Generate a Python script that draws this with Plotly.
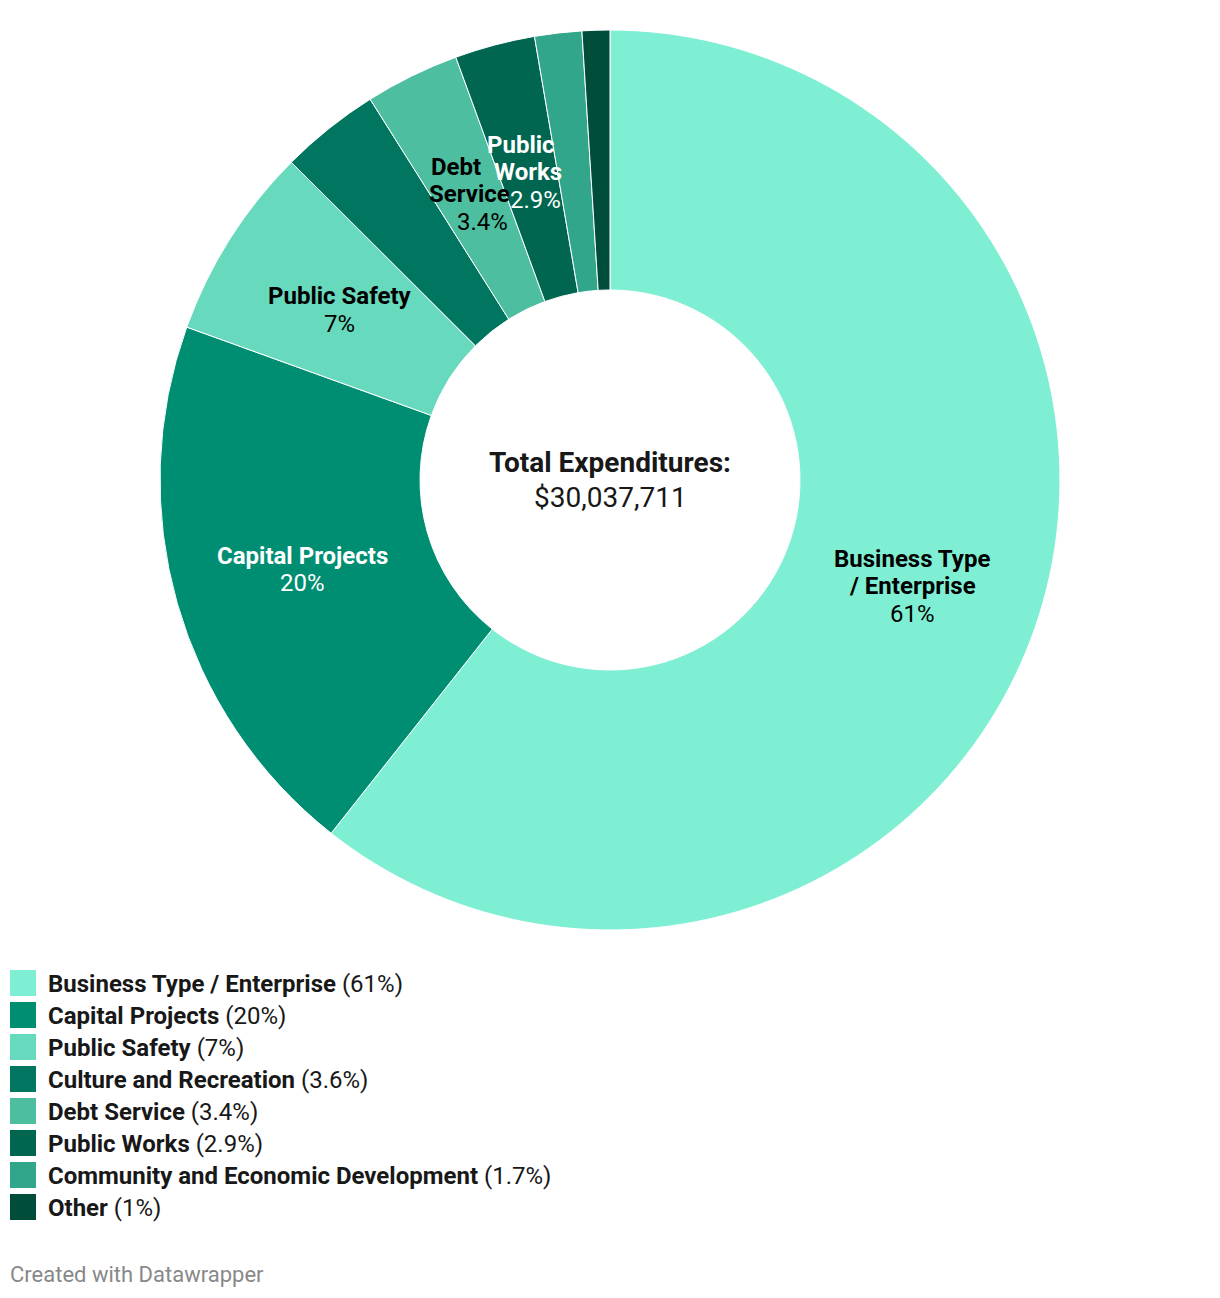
import math
import plotly.graph_objects as go

# ---- data ----
categories = ["Business Type / Enterprise", "Capital Projects", "Public Safety",
              "Culture and Recreation", "Debt Service", "Public Works",
              "Community and Economic Development", "Other"]
values = [61, 20, 7, 3.6, 3.4, 2.9, 1.7, 1]
colors = ["#7fefd3", "#008e73", "#67d9bd", "#00755f", "#4dbfa0", "#006650", "#32a68a", "#004d3b"]
# in-slice label name lines (None = no label) and label colour
slice_label_lines = [["Business Type", "/ Enterprise"], ["Capital Projects"], ["Public Safety"],
                     None, ["Debt", "Service"], ["Public", "Works"], None, None]
slice_label_colors = ["#000000", "#ffffff", "#000000", None, "#000000", "#ffffff", None, None]
# narrow slices: stack label lines along the slice's radial direction
slice_label_radial = [False, False, False, False, True, True, False, False]
total_title = "Total Expenditures:"
total_value = "$30,037,711"
footer = "Created with Datawrapper"

W, H = 1220, 1298
CX, CY, R_OUT, R_IN = 610, 480, 450, 190
FONT = "Roboto, 'Open Sans', sans-serif"
TXT = "#181818"

def px(x):
    return x / W

def py(y):
    return 1 - y / H

fig = go.Figure(go.Pie(
    labels=categories, values=values, sort=False, direction="clockwise", rotation=0,
    hole=R_IN / R_OUT, textinfo="none", hoverinfo="label+percent",
    marker=dict(colors=colors, line=dict(color="#ffffff", width=1)),
    domain=dict(x=[px(CX - R_OUT), px(CX + R_OUT)], y=[py(CY + R_OUT), py(CY - R_OUT)]),
    showlegend=False,
))

ann = []
total = sum(values)
cum = 0.0
r_lab = (R_OUT + R_IN) / 2
LH = 27.5
for i, v in enumerate(values):
    mid = (cum + v / 2) / total * 2 * math.pi
    cum += v
    lines = slice_label_lines[i]
    if lines is None:
        continue
    s, c = math.sin(mid), math.cos(mid)
    ax = CX + r_lab * s
    ay = CY - r_lab * c + 1.5
    all_lines = ["<b>%s</b>" % t for t in lines] + ["%g%%" % v]
    n = len(all_lines)
    for k, t in enumerate(all_lines):
        dy = (k - (n - 1) / 2) * LH
        dx = dy * s / (-c) if slice_label_radial[i] else 0.0
        ann.append(dict(x=px(ax + dx), y=py(ay + dy), xref="paper", yref="paper", text=t,
                        showarrow=False, xanchor="center", yanchor="middle",
                        font=dict(family=FONT, size=24, color=slice_label_colors[i])))

# center text
ann.append(dict(x=px(CX), y=py(463), xref="paper", yref="paper", text="<b>%s</b>" % total_title,
                showarrow=False, xanchor="center", yanchor="middle",
                font=dict(family=FONT, size=28, color=TXT)))
ann.append(dict(x=px(CX), y=py(497), xref="paper", yref="paper", text=total_value,
                showarrow=False, xanchor="center", yanchor="middle",
                font=dict(family=FONT, size=28, color=TXT)))

# legend
shapes = []
for i, (cat, v, col) in enumerate(zip(categories, values, colors)):
    yc = 983 + 32 * i
    shapes.append(dict(type="rect", xref="paper", yref="paper",
                       x0=px(10), x1=px(36), y0=py(yc + 13), y1=py(yc - 13),
                       fillcolor=col, line=dict(width=0)))
    ann.append(dict(x=px(46), y=py(yc + 1), xref="paper", yref="paper",
                    text="<b>%s</b> (%g%%)" % (cat, v), showarrow=False,
                    xanchor="left", yanchor="middle",
                    font=dict(family=FONT, size=24, color=TXT)))

ann.append(dict(x=px(8), y=py(1274), xref="paper", yref="paper", text=footer,
                showarrow=False, xanchor="left", yanchor="middle",
                font=dict(family=FONT, size=22, color="#888888")))

fig.update_layout(width=W, height=H, margin=dict(l=0, r=0, t=0, b=0),
                  paper_bgcolor="#ffffff", plot_bgcolor="#ffffff",
                  annotations=ann, shapes=shapes)
fig.write_html("out.html")
